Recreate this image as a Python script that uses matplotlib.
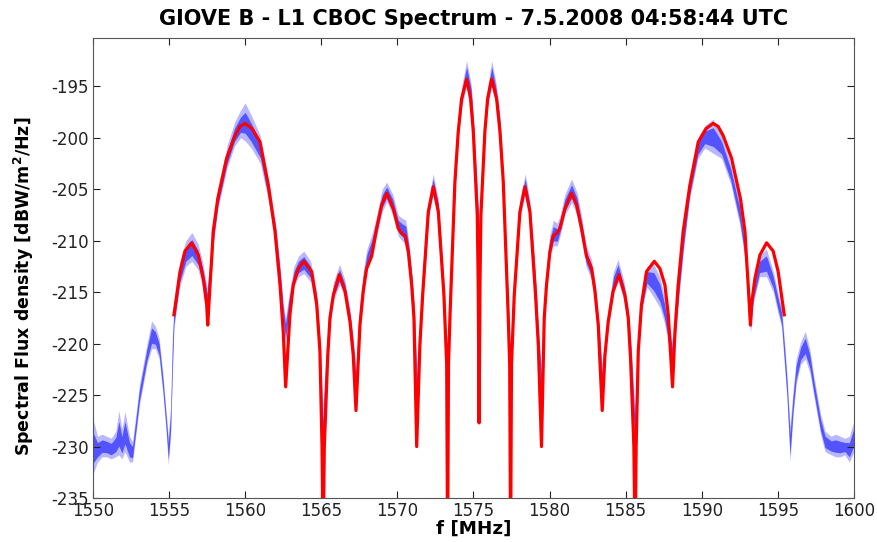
import matplotlib
matplotlib.use("Agg")
import matplotlib.pyplot as plt
import numpy as np

plt.rcParams['font.family'] = ['DejaVu Sans']
plt.rcParams['axes.unicode_minus'] = False

# ---- red model curve (frequency MHz, level dBW/m^2/Hz) ----
red_f = [1555.32, 1555.72, 1556.05, 1556.48, 1556.92, 1557.25, 1557.47, 1557.54, 1557.69, 1557.80,
         1557.90, 1558.20, 1558.78, 1559.33, 1559.66, 1559.99, 1560.45, 1560.97, 1561.52, 1561.96,
         1562.29, 1562.50,
         1562.66, 1562.94, 1563.16, 1563.49, 1563.86, 1564.37, 1564.70, 1564.91, 1565.05, 1565.12,
         1565.20, 1565.42, 1565.57, 1565.79, 1566.18, 1566.56, 1566.89, 1567.10, 1567.28, 1567.54,
         1567.76, 1567.98, 1568.31, 1568.64, 1568.97, 1569.30, 1569.73, 1570.06, 1570.28, 1570.50,
         1570.72, 1570.94, 1571.09, 1571.27, 1571.48, 1571.66, 1571.81, 1572.03, 1572.36, 1572.69,
         1572.91, 1573.06, 1573.24, 1573.30, 1573.36, 1573.46, 1573.78, 1574.00, 1574.22, 1574.55,
         1574.81, 1574.99, 1575.25, 1575.31, 1575.37,
         1575.43, 1575.49, 1575.75, 1575.93, 1576.19, 1576.52, 1576.74, 1576.96, 1577.28, 1577.38,
         1577.44, 1577.50, 1577.68, 1577.83, 1578.05, 1578.38, 1578.71, 1578.93, 1579.08, 1579.26,
         1579.47, 1579.65, 1579.80, 1580.02, 1580.24, 1580.46, 1580.68, 1581.01, 1581.44, 1581.77,
         1582.10, 1582.43, 1582.76, 1582.98, 1583.20, 1583.46, 1583.64, 1583.85, 1584.18, 1584.56,
         1584.95, 1585.17, 1585.32, 1585.54, 1585.62, 1585.69, 1585.83, 1586.04, 1586.37, 1586.88,
         1587.25, 1587.58, 1587.80, 1588.08, 1588.24, 1588.45, 1588.78, 1589.22, 1589.77, 1590.29,
         1590.75, 1591.08, 1591.41, 1591.96, 1592.54, 1592.84, 1592.94, 1593.05, 1593.20, 1593.27,
         1593.49, 1593.82, 1594.26, 1594.69, 1595.02, 1595.42]
red_db = [-217.2, -213.0, -211.0, -210.2, -211.4, -213.7, -216.2, -218.2, -214.3, -211.7,
          -209.1, -205.9, -202.0, -199.8, -198.9, -198.6, -199.1, -200.4, -204.6, -209.1,
          -214.3, -218.8,
          -224.2, -217.2, -214.3, -212.7, -212.0, -213.0, -216.2, -220.7, -230.0, -240.0,
          -230.0, -221.4, -217.5, -215.3, -213.3, -214.9, -217.9, -221.1, -226.5, -218.2,
          -214.9, -212.7, -211.5, -208.8, -206.5, -205.4, -206.9, -208.8, -209.3, -209.5,
          -211.1, -214.3, -217.5, -230.0, -220.1, -215.3, -212.0, -207.2, -204.75, -207.2,
          -212.0, -215.3, -222.0, -240.0, -222.0, -217.2, -204.3, -199.4, -196.2, -194.3,
          -196.2, -199.4, -207.5, -214.0, -227.7,
          -214.0, -207.5, -199.4, -196.2, -194.3, -196.2, -199.4, -204.3, -217.2, -222.0,
          -240.0, -222.0, -215.3, -212.0, -207.2, -204.75, -207.2, -212.0, -215.3, -220.1,
          -230.0, -217.5, -214.3, -211.1, -209.5, -209.3, -208.8, -206.9, -205.4, -206.5,
          -208.8, -211.5, -212.7, -214.9, -218.2, -226.5, -221.1, -217.9, -214.9, -213.3,
          -215.3, -217.5, -221.4, -230.0, -240.0, -230.0, -220.7, -216.2, -213.0, -212.0,
          -212.7, -214.3, -217.2, -224.2, -218.8, -214.3, -209.1, -204.6, -200.4, -199.1,
          -198.6, -198.9, -199.8, -202.0, -205.9, -209.1, -211.7, -214.3, -218.2, -216.2,
          -213.7, -211.4, -210.2, -211.0, -213.0, -217.2]

# ---- blue measured spectrum: frequency, lower and upper edge of the point cloud ----
blue_f = [1550.0, 1550.3, 1550.6, 1550.9, 1551.2, 1551.5, 1551.7, 1551.9, 1552.1, 1552.4,
          1552.6, 1552.85, 1553.05, 1553.3, 1553.55, 1553.85, 1554.1, 1554.35, 1554.6, 1554.8,
          1554.95, 1555.1, 1555.22, 1555.32, 1555.7, 1556.1, 1556.5, 1556.9, 1557.2, 1557.5,
          1557.75, 1557.9, 1558.2, 1558.8, 1559.3, 1559.7, 1560.0, 1560.4, 1561.0, 1561.5,
          1562.0, 1562.3, 1562.5, 1562.65, 1562.9, 1563.2, 1563.5, 1563.85, 1564.3, 1564.7,
          1564.9, 1565.1, 1565.35, 1565.6, 1565.8, 1566.2, 1566.55, 1566.9, 1567.1, 1567.28,
          1567.5, 1567.75, 1568.0, 1568.3, 1568.65, 1569.0, 1569.3, 1569.7, 1570.05, 1570.3,
          1570.55, 1570.75, 1570.95, 1571.1, 1571.27, 1571.5, 1571.7, 1571.85, 1572.05, 1572.35,
          1572.7, 1572.9, 1573.05, 1573.28, 1573.48, 1573.8, 1574.0, 1574.25, 1574.55, 1574.85,
          1575.0, 1575.2, 1575.37, 1575.55, 1575.75, 1575.95, 1576.2, 1576.5, 1576.75, 1576.95,
          1577.28, 1577.45, 1577.65, 1577.85, 1578.05, 1578.4, 1578.7, 1578.95, 1579.1, 1579.27,
          1579.45, 1579.65, 1579.8, 1580.0, 1580.25, 1580.5, 1580.7, 1581.0, 1581.45, 1581.8,
          1582.1, 1582.4, 1582.75, 1583.0, 1583.2, 1583.45, 1583.65, 1583.85, 1584.2, 1584.5,
          1584.9, 1585.15, 1585.35, 1585.6, 1585.8, 1586.05, 1586.4, 1586.85, 1587.25, 1587.55,
          1587.8, 1588.1, 1588.3, 1588.5, 1588.8, 1589.2, 1589.75, 1590.2, 1590.75, 1591.3,
          1591.9, 1592.5, 1592.85, 1593.05, 1593.2, 1593.4, 1593.8, 1594.25, 1594.7, 1595.0,
          1595.25, 1595.45, 1595.6, 1595.8, 1596.0, 1596.2, 1596.5, 1596.8, 1597.1, 1597.35,
          1597.8, 1598.1, 1598.5, 1598.8, 1599.1, 1599.4, 1599.7, 1600.0]
blue_lo = [-232.7, -231.5, -231.0, -231.0, -231.2, -231.0, -230.8, -231.2, -230.5, -231.5,
           -231.5, -228.5, -226.0, -224.0, -222.0, -220.5, -220.5, -221.5, -225.0, -228.5,
           -231.8, -229.0, -223.0, -218.5, -214.5, -212.5, -212.0, -212.8, -214.5, -217.0,
           -214.0, -210.5, -207.0, -203.0, -200.8, -200.0, -200.3, -201.0, -202.5, -206.0,
           -210.0, -214.5, -218.0, -220.0, -217.0, -214.5, -213.5, -213.2, -214.0, -216.8,
           -221.0, -232.0, -222.5, -218.0, -215.8, -214.3, -215.5, -218.5, -221.5, -225.5,
           -219.0, -215.0, -212.8, -211.8, -209.5, -207.2, -206.2, -207.5, -209.5, -210.0,
           -210.3, -212.0, -214.8, -218.0, -227.0, -220.5, -215.5, -212.3, -207.8, -205.5,
           -207.8, -212.5, -215.8, -229.0, -217.5, -205.0, -200.0, -196.8, -195.0, -196.8,
           -200.0, -205.5, -211.0, -205.5, -200.0, -196.8, -195.0, -196.8, -200.0, -205.0,
           -217.5, -227.0, -216.0, -212.5, -207.8, -205.5, -207.8, -212.5, -215.8, -220.5,
           -225.5, -218.0, -214.8, -211.5, -210.5, -210.5, -209.5, -207.5, -206.3, -207.5,
           -210.0, -212.5, -213.8, -216.0, -219.0, -225.5, -221.5, -218.5, -215.0, -214.0,
           -215.8, -218.0, -222.0, -231.0, -221.5, -217.0, -214.5, -215.5, -216.5, -218.0,
           -220.0, -222.5, -219.0, -215.5, -211.0, -206.0, -202.0, -201.0, -201.5, -202.0,
           -204.5, -208.5, -212.0, -215.5, -219.0, -216.0, -213.5, -213.5, -215.0, -217.0,
           -218.5, -222.5, -225.5, -231.5, -227.0, -224.0, -222.0, -221.5, -222.8, -225.0,
           -228.8, -230.5, -230.8, -231.0, -231.0, -230.8, -231.5, -230.5]
blue_hi = [-227.3, -229.0, -228.8, -229.0, -229.2, -228.5, -226.5, -228.3, -226.6, -229.0,
           -229.5, -226.5, -224.0, -222.0, -220.0, -217.8, -218.3, -219.5, -223.0, -226.5,
           -229.0, -226.0, -219.0, -216.2, -212.0, -210.0, -209.2, -210.3, -212.0, -214.5,
           -211.0, -208.5, -205.0, -200.8, -198.5, -197.3, -196.6, -197.8, -199.8, -203.8,
           -208.3, -212.5, -216.0, -217.5, -215.0, -212.5, -211.5, -211.0, -212.0, -215.0,
           -219.0, -226.0, -220.0, -216.0, -214.0, -212.3, -213.8, -216.8, -219.5, -222.5,
           -216.5, -213.0, -210.8, -209.5, -207.5, -205.0, -204.3, -205.5, -207.5, -207.8,
           -208.0, -210.0, -213.0, -216.0, -222.0, -218.5, -213.5, -210.5, -206.0, -203.5,
           -206.0, -210.5, -213.8, -222.0, -215.5, -203.0, -198.0, -194.8, -192.5, -194.8,
           -198.0, -203.5, -208.0, -203.5, -198.0, -194.8, -192.5, -194.8, -198.0, -203.0,
           -215.5, -222.0, -214.0, -210.5, -206.0, -203.5, -206.0, -210.5, -213.8, -218.5,
           -222.0, -216.0, -212.5, -209.5, -208.0, -208.3, -207.5, -205.5, -204.0, -205.3,
           -207.5, -210.5, -211.8, -214.0, -217.0, -222.0, -219.5, -216.5, -213.0, -211.8,
           -214.0, -216.3, -220.0, -226.0, -219.5, -215.0, -212.5, -212.3, -213.5, -215.5,
           -217.5, -220.0, -216.5, -213.0, -208.8, -204.0, -200.0, -198.8, -198.2, -199.8,
           -202.5, -206.3, -210.0, -213.5, -216.5, -214.0, -211.5, -210.8, -213.0, -215.0,
           -216.5, -220.0, -223.0, -228.0, -224.5, -221.5, -219.8, -218.8, -220.5, -223.0,
           -226.8, -228.5, -229.0, -228.8, -229.0, -229.2, -229.0, -227.5]

title = "GIOVE B - L1 CBOC Spectrum - 7.5.2008 04:58:44 UTC"
xticks = [1550, 1555, 1560, 1565, 1570, 1575, 1580, 1585, 1590, 1595, 1600]
yticks = [-235, -230, -225, -220, -215, -210, -205, -200, -195]

fig = plt.figure(figsize=(8.78, 5.42), dpi=100)
ax = fig.add_axes([0.1059, 0.0812, 0.8667, 0.8487])

bf = np.array(blue_f)
blo = np.array(blue_lo)
bhi = np.array(blue_hi)
ax.fill_between(bf, blo, bhi, color='#0000ff', alpha=0.28, linewidth=0)
ax.fill_between(bf, blo + (bhi - blo) * 0.2, bhi - (bhi - blo) * 0.25,
                color='#0000ff', alpha=0.55, linewidth=0)
ax.plot(red_f, red_db, color='#ff0000', linewidth=2.3, solid_joinstyle='round', zorder=3)

ax.set_xlim(1550, 1600)
ax.set_ylim(-235, -190.3)
ax.set_xticks(xticks)
ax.set_yticks(yticks)
ax.tick_params(direction='in', length=5, width=0.8, top=True, right=True,
               labelsize=12, colors='#222222')
ax.tick_params(axis='x', pad=3)
ax.tick_params(axis='y', pad=3)
for s in ax.spines.values():
    s.set_linewidth(0.8)
    s.set_color('#555555')

ax.set_title(title, fontsize=15, fontweight='bold', pad=9)
ax.set_xlabel("f [MHz]", fontsize=13.2, fontweight='bold', labelpad=0)
ax.set_ylabel("Spectral Flux density [dBW/m$^\\mathbf{2}$/Hz]", fontsize=12.5,
              fontweight='bold')
ax.yaxis.set_label_coords(-0.075, 0.46)

fig.savefig("out.png", dpi=100)
